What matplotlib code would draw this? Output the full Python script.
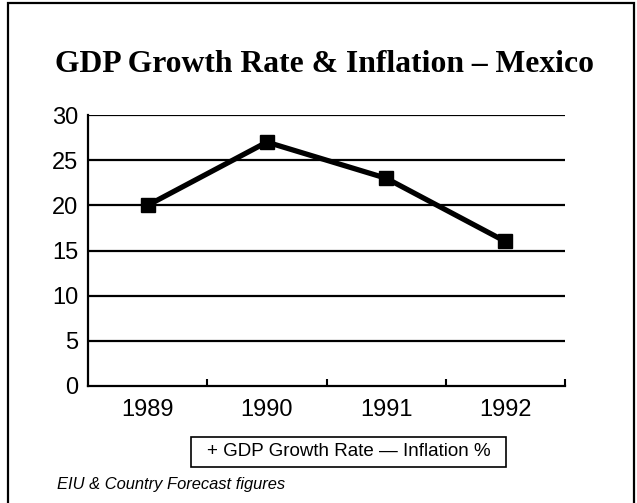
import matplotlib.pyplot as plt
from matplotlib.patches import Rectangle

# donnees
years = ['1989', '1990', '1991', '1992']
inflation = [20, 27, 23, 16]
y_ticks = [0, 5, 10, 15, 20, 25, 30]
legend_text = '+ GDP Growth Rate \u2014 Inflation %'
title = 'GDP Growth Rate & Inflation \u2013 Mexico'
source = 'EIU & Country Forecast figures'

fig = plt.figure(figsize=(6.37, 5.03), dpi=100)
ax = fig.add_axes([88/637, 1-386/503, (565-88)/637, (386-115)/503])

x = list(range(len(years)))
ax.plot(x, inflation, color='black', linewidth=3.8, marker='s', markersize=9.5,
        solid_joinstyle='miter', zorder=3)

ax.set_xlim(-0.5, len(years) - 0.5)
ax.set_ylim(0, 30)
ax.set_yticks(y_ticks)
ax.set_yticklabels([str(v) for v in y_ticks], fontsize=17, family='Liberation Sans')
ax.set_xticks(x)
ax.set_xticklabels(years, fontsize=17, family='Liberation Sans')
ax.tick_params(axis='x', length=0, pad=9)
ax.tick_params(axis='y', length=0, pad=7)
ax.set_xticks([i + 0.5 for i in x], minor=True)
ax.tick_params(axis='x', which='minor', direction='in', length=5, width=1.5)

for v in y_ticks[1:]:
    ax.axhline(v, color='black', linewidth=1.6, zorder=1)
ax.spines['top'].set_visible(False)
ax.spines['right'].set_visible(False)
ax.spines['left'].set_linewidth(1.6)
ax.spines['bottom'].set_linewidth(1.6)

fig.text(55/637, 1-72/503, title, fontsize=22.8, fontweight='bold',
         family='Liberation Serif', va='baseline', ha='left')

# boite de legende
fig.patches.append(Rectangle((191/637, 1-467/503), (506-191)/637, 30/503,
                             transform=fig.transFigure, facecolor='white',
                             edgecolor='black', linewidth=1.2))
fig.text(349/637, 1-452/503, legend_text, fontsize=13.5, family='Liberation Sans',
         ha='center', va='center')

fig.text(57/637, 1-485/503, source, fontsize=11.9, style='italic',
         family='Liberation Sans', va='center', ha='left')

# cadre exterieur
fig.patches.append(Rectangle((8/637, -0.05), (634-8)/637, 1.05-3/503,
                             transform=fig.transFigure, fill=False,
                             edgecolor='black', linewidth=1.6))

fig.savefig('out.png', dpi=100)
